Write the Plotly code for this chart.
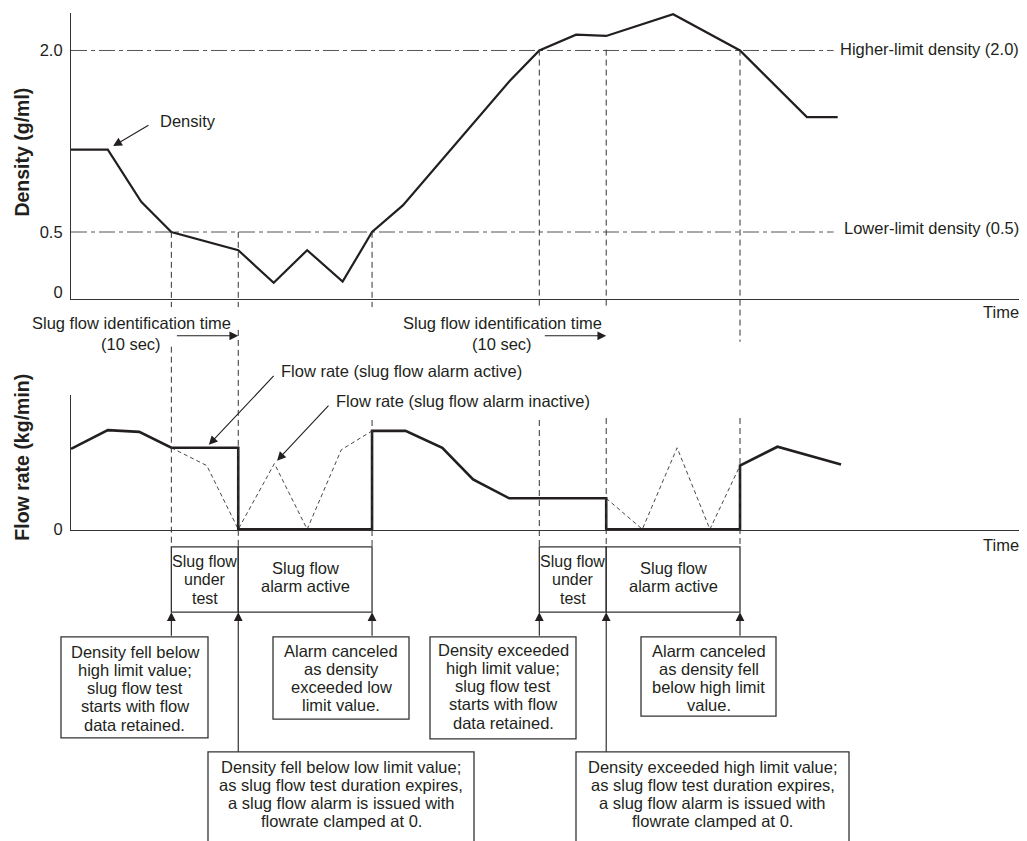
import plotly.graph_objects as go

# Dichte-Verlauf (g/ml) über der Zeit (s)
dens_t = [0, 5.5, 10.5, 15, 25, 30.3, 35.3, 40.6, 45, 49.6, 65.6, 70, 75.5, 80, 90, 100, 110, 114.6]
dens_v = [1.18, 1.18, 0.75, 0.5, 0.35, 0.08, 0.35, 0.09, 0.5, 0.72, 1.75, 2.0, 2.13, 2.12, 2.30, 2.0, 1.45, 1.45]

# Durchfluss mit aktivem Slug-Flow-Alarm (fett)
flow_t = [0, 5.5, 10.2, 15, 25, 25, 45, 45, 50, 55.5, 60.1, 65.5, 80, 80, 100, 100, 105.6, 115.1]
flow_v = [60, 74, 72.7, 60.8, 60.8, 0, 0, 73.4, 73.4, 60.8, 37.2, 23.1, 23.1, 0, 0, 47.5, 61.6, 48.3]

# Durchfluss ohne Alarm (dünn gestrichelt)
flow_off_t = [15, 20.3, 25, 30.4, 35.3, 40.4, 45, None, 80, 85.4, 90.6, 95.5, 100]
flow_off_v = [60.8, 47.5, 0, 49, 0, 59.3, 73.4, None, 23.1, 0, 60.8, 0, 47.5]

low_limit = 0.5
high_limit = 2.0
limit_end = 114

# Ereignisse (s): Teststart, Alarm an, Alarm aus
test_start = [15, 70]
alarm_on = [25, 80]
alarm_off = [45, 100]

dens_ticks = [0, 0.5, 2.0]
dens_ticklabels = ["0", "0.5", "2.0"]

# Seite hat 8px Body-Rand -> Figur um 8px kleiner, Koordinaten verschoben
OFF = 8
W, H = 1027 - OFF, 841 - OFF
def px(p): return (p - OFF) / W
def py(p): return 1 - (p - OFF) / H

FONT = "Liberation Sans, Arial, Helvetica, sans-serif"
INK = "#231f20"
FS = 16.5

fig = go.Figure()

# Grenzwerte
for lim in [high_limit, low_limit]:
    fig.add_trace(go.Scatter(x=[0, limit_end], y=[lim, lim], mode="lines",
                             line=dict(color="#555", width=1, dash="16px,4px,4px,4px"),
                             xaxis="x", yaxis="y", hoverinfo="skip"))

fig.add_trace(go.Scatter(x=dens_t, y=dens_v, mode="lines", line=dict(color=INK, width=2.2),
                         xaxis="x", yaxis="y", name="Density"))
fig.add_trace(go.Scatter(x=flow_off_t, y=flow_off_v, mode="lines", connectgaps=False,
                         line=dict(color="#333", width=0.9, dash="4px,3px"),
                         xaxis="x2", yaxis="y2", name="Flow rate (inactive)"))
fig.add_trace(go.Scatter(x=flow_t, y=flow_v, mode="lines", line=dict(color=INK, width=2.6),
                         xaxis="x2", yaxis="y2", name="Flow rate (active)"))

# senkrechte Hilfslinien (gestrichelt)
vlines = [(test_start[0], 234, 310), (test_start[0], 350, 552),
          (alarm_on[0], 234, 310), (alarm_on[0], 333, 552),
          (alarm_off[0], 234, 310), (alarm_off[0], 424, 552),
          (test_start[1], 50, 310), (test_start[1], 424, 552),
          (alarm_on[1], 50, 310), (alarm_on[1], 422, 552),
          (alarm_off[1], 50, 345), (alarm_off[1], 422, 552)]
for t, a, b in vlines:
    fig.add_shape(type="line", xref="x", yref="paper", x0=t, x1=t, y0=py(a), y1=py(b),
                  line=dict(color="#333", width=1, dash="6px,4px"))

# Zustandsboxen
for k in range(2):
    for a, b in [(test_start[k], alarm_on[k]), (alarm_on[k], alarm_off[k])]:
        fig.add_shape(type="rect", xref="x", yref="paper", x0=a, x1=b, y0=py(618), y1=py(552),
                      line=dict(color="#333", width=1.3))

def text_lines(lines, x, y_first, xref="paper", step=18.4, size=FS, anchor="center"):
    for i, s in enumerate(lines):
        fig.add_annotation(x=x, y=py(y_first + i * step), xref=xref, yref="paper", text=s,
                           showarrow=False, font=dict(size=size, color=INK, family=FONT),
                           xanchor=anchor, yanchor="middle")

for k in range(2):
    text_lines(["Slug flow", "under", "test"], (test_start[k] + alarm_on[k]) / 2, 567, xref="x", size=16)
    text_lines(["Slug flow", "alarm active"], (alarm_on[k] + alarm_off[k]) / 2, 573, xref="x")

# Erklärungsboxen
boxes = [
    ((61, 643, 208, 745), ["Density fell below", "high limit value;", "slug flow test", "starts with flow", "data retained."], 658),
    ((273, 643, 409, 726), ["Alarm canceled", "as density", "exceeded low", "limit value."], 657),
    ((208, 759, 474, 870), ["Density fell below low limit value;", "as slug flow test duration expires,",
                            "a slug flow alarm is issued with", "flowrate clamped at 0."], 774),
    ((430, 643, 576, 746), ["Density exceeded", "high limit value;", "slug flow test", "starts with flow", "data retained."], 656),
    ((641, 643, 776, 723), ["Alarm canceled", "as density fell", "below high limit", "value."], 657),
    ((576, 759, 849, 870), ["Density exceeded high limit value;", "as slug flow test duration expires,",
                            "a slug flow alarm is issued with", "flowrate clamped at 0."], 774),
]
for (x0, y0, x1, y1), lines, yf in boxes:
    fig.add_shape(type="rect", xref="paper", yref="paper", x0=px(x0), x1=px(x1), y0=py(y1), y1=py(y0),
                  line=dict(color="#333", width=1.3))
    text_lines(lines, px((x0 + x1) / 2), yf)

def arrow(x, y, ax, ay, xref="x", yref="paper", axref="pixel", ayref="pixel"):
    fig.add_annotation(x=x, y=y, ax=ax, ay=ay, xref=xref, yref=yref, axref=axref, ayref=ayref,
                       text="", showarrow=True, arrowhead=2, arrowsize=1.6, arrowwidth=1.1,
                       arrowcolor=INK, font=dict(size=1))

# Pfeile nach oben zu den Zustandsboxen
for k in range(2):
    arrow(test_start[k], py(618), 0, 25)
    arrow(alarm_on[k], py(618), 0, 141)
    arrow(alarm_off[k], py(618), 0, 25)
    # Identifikationszeit
    arrow(alarm_on[k], py(339), test_start[k] + 0.6, 0, axref="x")

# Beschriftungspfeile
arrow(6.3, 1.21, 11.8, 1.39, yref="y", axref="x", ayref="y")
arrow(20.6, 63, 30.5, 115.5, xref="x2", yref="y2", axref="x2", ayref="y2")
arrow(30.8, 51.2, 38.7, 93.3, xref="x2", yref="y2", axref="x2", ayref="y2")

def label(s, x, y, anchor="left", size=FS, **kw):
    fig.add_annotation(x=px(x), y=py(y), xref="paper", yref="paper", text=s, showarrow=False,
                       font=dict(size=size, color=INK, family=FONT), xanchor=anchor, yanchor="middle", **kw)

label("Density", 158, 122)
label("Flow rate (slug flow alarm active)", 279, 375)
label("Flow rate (slug flow alarm inactive)", 334, 405)
for cx in [131, 502]:
    label("Slug flow identification time", cx, 326, anchor="center")
    label("(10 sec)", cx, 347, anchor="center")
label("Time", 1021, 315, anchor="right")
label("Time", 1021, 550, anchor="right")
label("Higher-limit density (2.0)", 838, 49)
label("Lower-limit density (0.5)", 842, 230)
label("<b>Density (g/ml)</b>", 22, 154, anchor="center", size=19.5, textangle=-90)
label("<b>Flow rate (kg/min)</b>", 22, 462, anchor="center", size=19.5, textangle=-90)

axis_common = dict(showgrid=False, zeroline=False, showline=True, linecolor="#333", linewidth=1.2,
                   ticks="", mirror=False)
fig.update_layout(
    width=W, height=H, margin=dict(l=0, r=0, t=0, b=0),
    paper_bgcolor="white", plot_bgcolor="white", showlegend=False,
    font=dict(family=FONT, size=FS, color=INK),
    xaxis=dict(domain=[px(71), px(1023)], range=[0, 142.3], showticklabels=False, anchor="y", **axis_common),
    yaxis=dict(domain=[py(302), py(13)], range=[-0.055, 2.31], tickvals=dens_ticks, ticktext=dens_ticklabels,
               ticklabelstandoff=4, tickfont=dict(size=FS), anchor="x", **axis_common),
    xaxis2=dict(domain=[px(71), px(1023)], range=[0, 142.3], showticklabels=False, anchor="y2", **axis_common),
    yaxis2=dict(domain=[py(535), py(399)], range=[-0.5, 100], tickvals=[0], ticktext=["0"],
                ticklabelstandoff=4, tickfont=dict(size=FS), anchor="x2", **axis_common),
)

fig.write_html("out.html")
